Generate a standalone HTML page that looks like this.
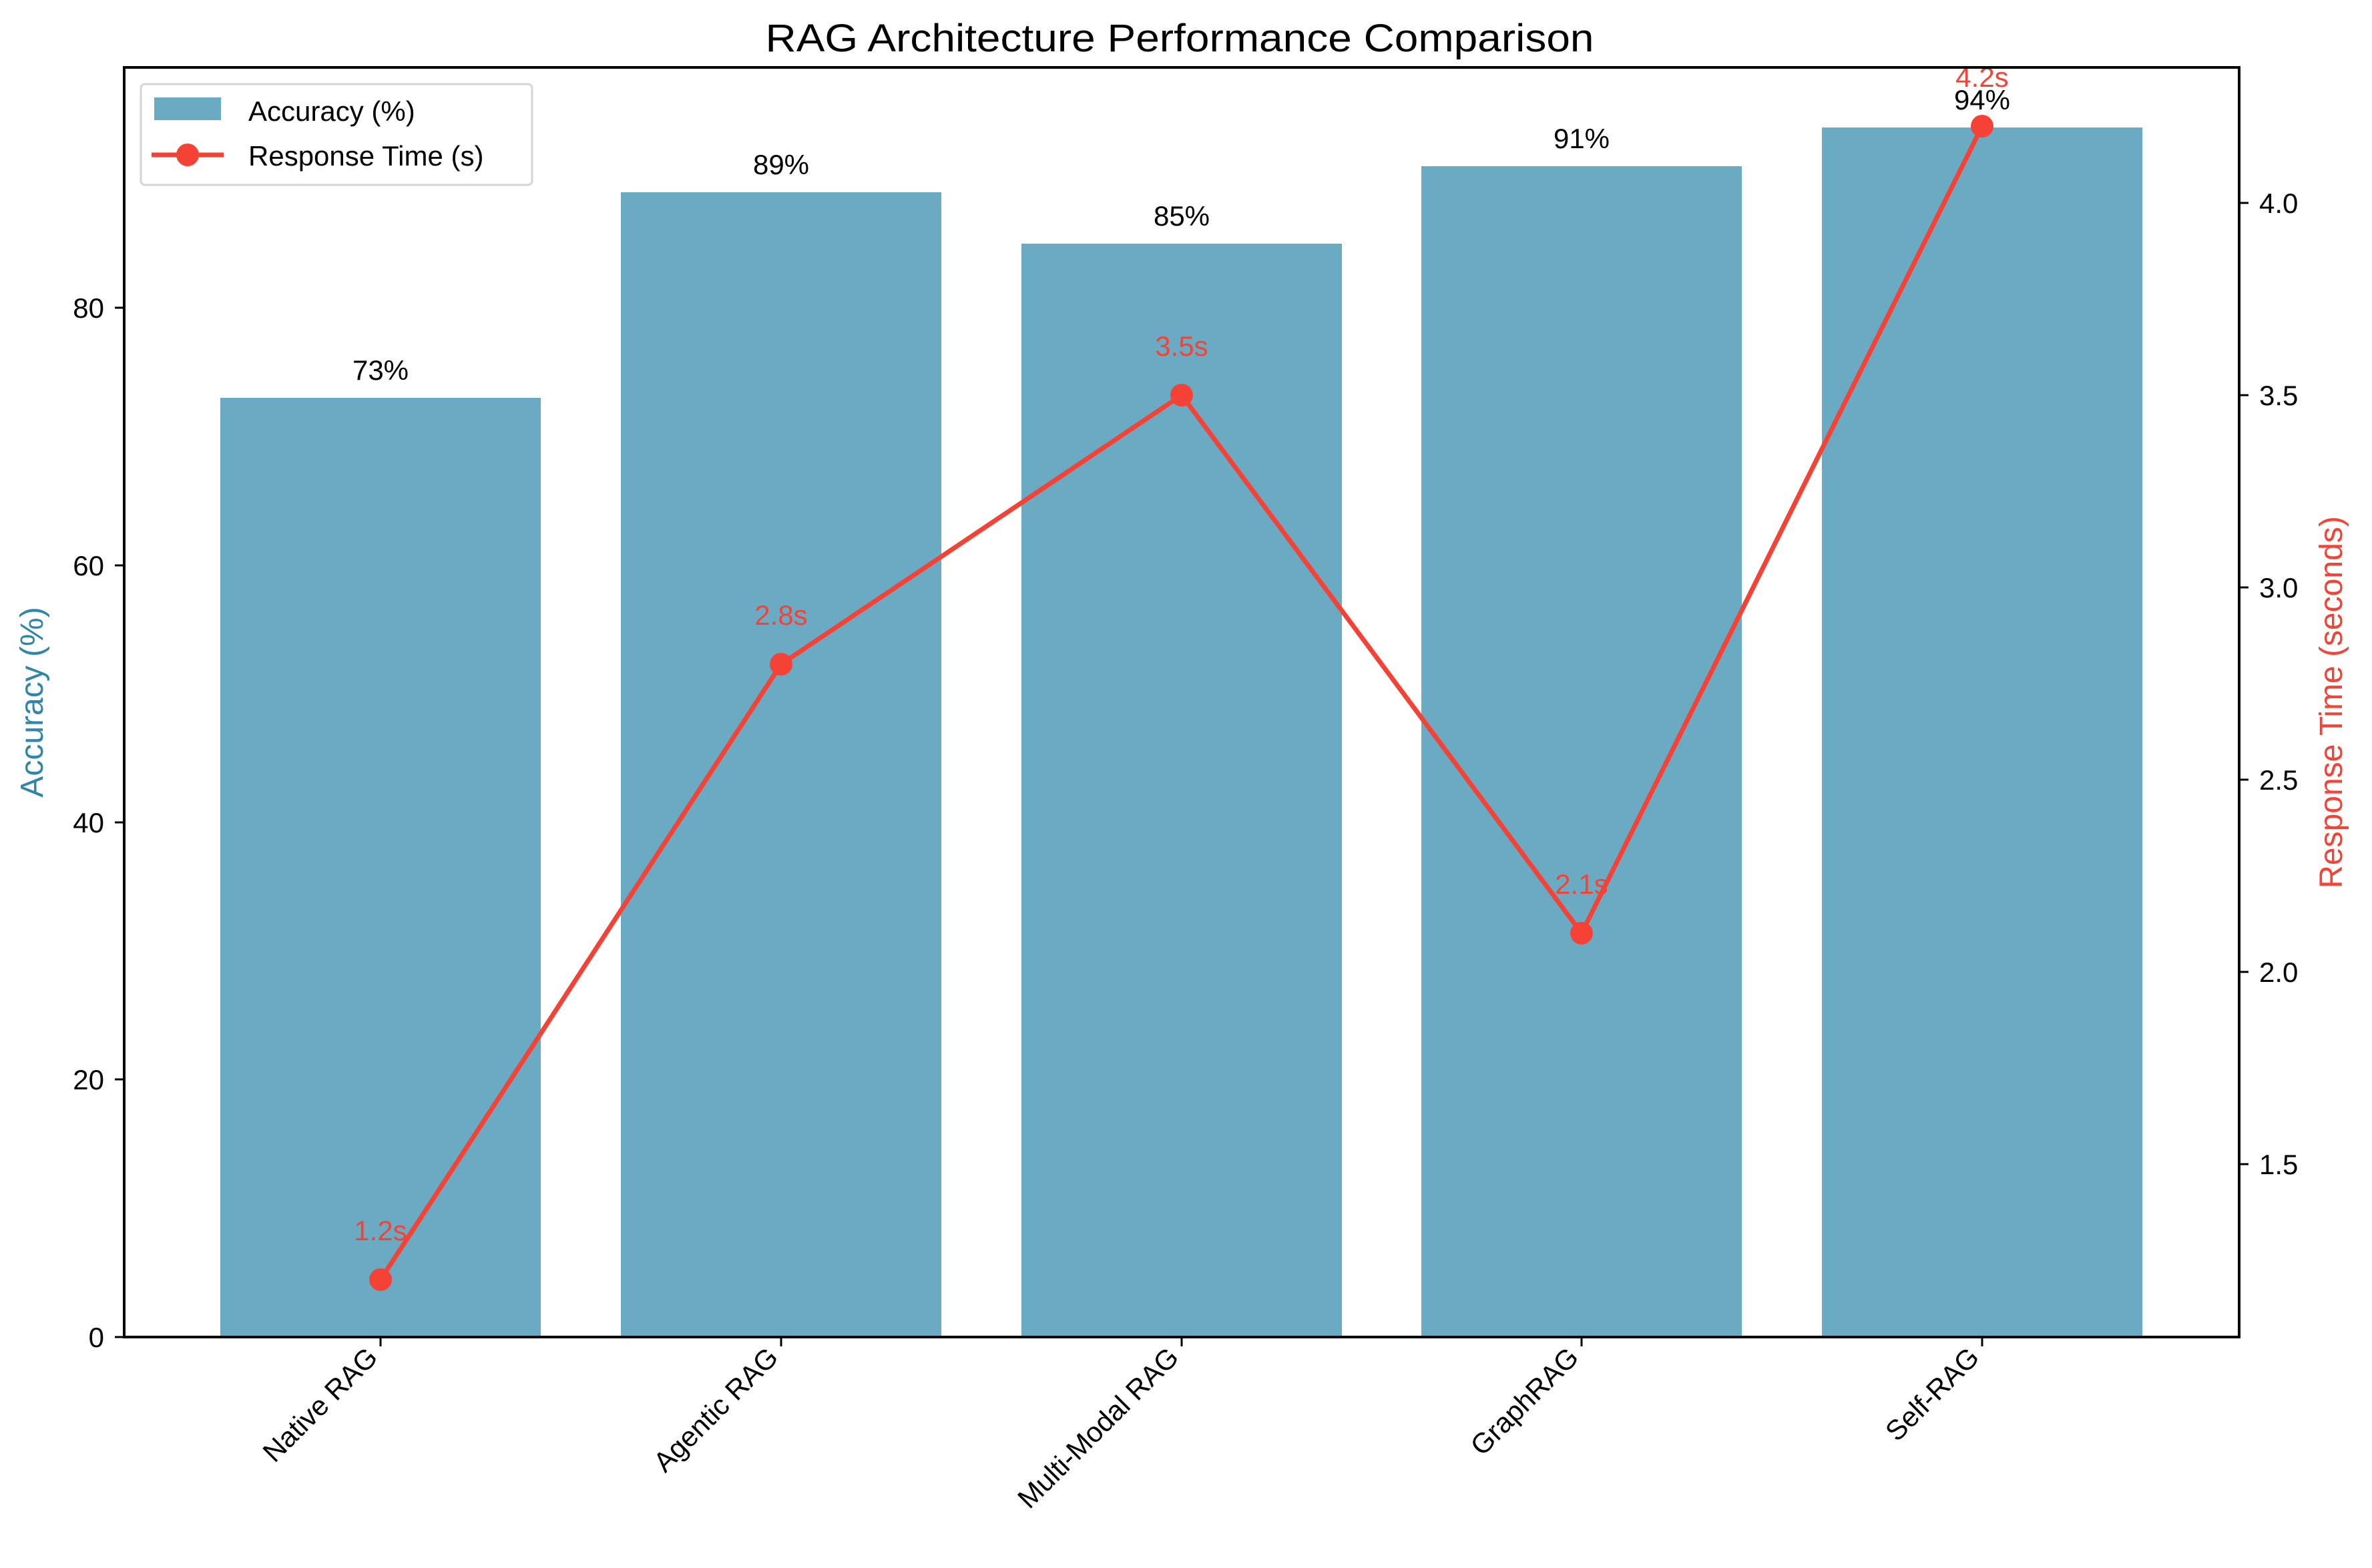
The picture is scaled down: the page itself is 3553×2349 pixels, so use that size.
<!DOCTYPE html>
<html><head><meta charset="utf-8"><style>
html,body{margin:0;padding:0;background:#fff;}
svg{display:block;font-family:"Liberation Sans Narrow","Liberation Sans",sans-serif;}
</style></head><body>
<svg width="3553" height="2349" viewBox="0 0 3553 2349" xmlns="http://www.w3.org/2000/svg">
<rect width="3553" height="2349" fill="#fff"/>
<g fill="#6baac3">
<rect x="330" y="596" width="480" height="1407"/>
<rect x="930" y="288" width="480" height="1715"/>
<rect x="1530" y="365" width="480" height="1638"/>
<rect x="2129" y="249" width="480" height="1754"/>
<rect x="2729" y="191" width="480" height="1812"/>
</g>
<g font-size="42" text-anchor="middle" fill="#000">
<text x="570" y="569">73%</text>
<text x="1170" y="261">89%</text>
<text x="1770" y="338">85%</text>
<text x="2369" y="222">91%</text>
<text x="2969" y="164">94%</text>
</g>
<polyline points="570,1917 1170,995 1770,592 2369,1398 2969,189" fill="none" stroke="#f44336" stroke-width="7" stroke-linejoin="round"/>
<g fill="#f44336">
<circle cx="570" cy="1917" r="17"/>
<circle cx="1170" cy="995" r="17"/>
<circle cx="1770" cy="592" r="17"/>
<circle cx="2369" cy="1398" r="17"/>
<circle cx="2969" cy="189" r="17"/>
</g>
<g font-size="42" text-anchor="middle" fill="#f44336">
<text x="570" y="1858">1.2s</text>
<text x="1170" y="936">2.8s</text>
<text x="1770" y="533">3.5s</text>
<text x="2369" y="1339">2.1s</text>
<text x="2969" y="130">4.2s</text>
</g>
<rect x="186" y="101" width="3168" height="1902" fill="none" stroke="#000" stroke-width="4"/>
<g stroke="#000" stroke-width="3">
<line x1="172" y1="2003" x2="186" y2="2003"/>
<line x1="172" y1="1617" x2="186" y2="1617"/>
<line x1="172" y1="1232" x2="186" y2="1232"/>
<line x1="172" y1="847" x2="186" y2="847"/>
<line x1="172" y1="461" x2="186" y2="461"/>
<line x1="3354" y1="1744" x2="3368" y2="1744"/>
<line x1="3354" y1="1456" x2="3368" y2="1456"/>
<line x1="3354" y1="1168" x2="3368" y2="1168"/>
<line x1="3354" y1="880" x2="3368" y2="880"/>
<line x1="3354" y1="592" x2="3368" y2="592"/>
<line x1="3354" y1="304" x2="3368" y2="304"/>
<line x1="570" y1="2003" x2="570" y2="2017"/>
<line x1="1170" y1="2003" x2="1170" y2="2017"/>
<line x1="1770" y1="2003" x2="1770" y2="2017"/>
<line x1="2369" y1="2003" x2="2369" y2="2017"/>
<line x1="2969" y1="2003" x2="2969" y2="2017"/>
</g>
<g font-size="42" text-anchor="end" fill="#000">
<text x="156" y="2018">0</text>
<text x="156" y="1632">20</text>
<text x="156" y="1247">40</text>
<text x="156" y="862">60</text>
<text x="156" y="476">80</text>
</g>
<g font-size="42" text-anchor="start" fill="#000">
<text x="3384" y="1759">1.5</text>
<text x="3384" y="1471">2.0</text>
<text x="3384" y="1183">2.5</text>
<text x="3384" y="895">3.0</text>
<text x="3384" y="607">3.5</text>
<text x="3384" y="319">4.0</text>
</g>
<g font-size="42" text-anchor="end" fill="#000">
<text transform="translate(568,2036) rotate(-45)">Native RAG</text>
<text transform="translate(1168,2036) rotate(-45)">Agentic RAG</text>
<text transform="translate(1768,2036) rotate(-45)">Multi-Modal RAG</text>
<text transform="translate(2367,2036) rotate(-45)">GraphRAG</text>
<text transform="translate(2967,2036) rotate(-45)">Self-RAG</text>
</g>
<text transform="translate(64,1052) rotate(-90)" font-size="48" text-anchor="middle" fill="#2e86ab">Accuracy (%)</text>
<text transform="translate(3508,1052) rotate(-90)" font-size="48" text-anchor="middle" fill="#f44336">Response Time (seconds)</text>
<text x="1767" y="77" font-size="58" text-anchor="middle" fill="#000" textLength="1241" lengthAdjust="spacingAndGlyphs">RAG Architecture Performance Comparison</text>
<rect x="211" y="126" width="586" height="151" rx="6" fill="#fff" fill-opacity="0.8" stroke="#d6d6d6" stroke-width="3"/>
<rect x="231" y="146" width="100" height="34" fill="#6baac3"/>
<text x="372" y="181" font-size="42" fill="#000">Accuracy (%)</text>
<line x1="227" y1="232" x2="335" y2="232" stroke="#f44336" stroke-width="7"/>
<circle cx="281" cy="232" r="17" fill="#f44336"/>
<text x="372" y="248" font-size="42" fill="#000">Response Time (s)</text>
</svg>
</body></html>
